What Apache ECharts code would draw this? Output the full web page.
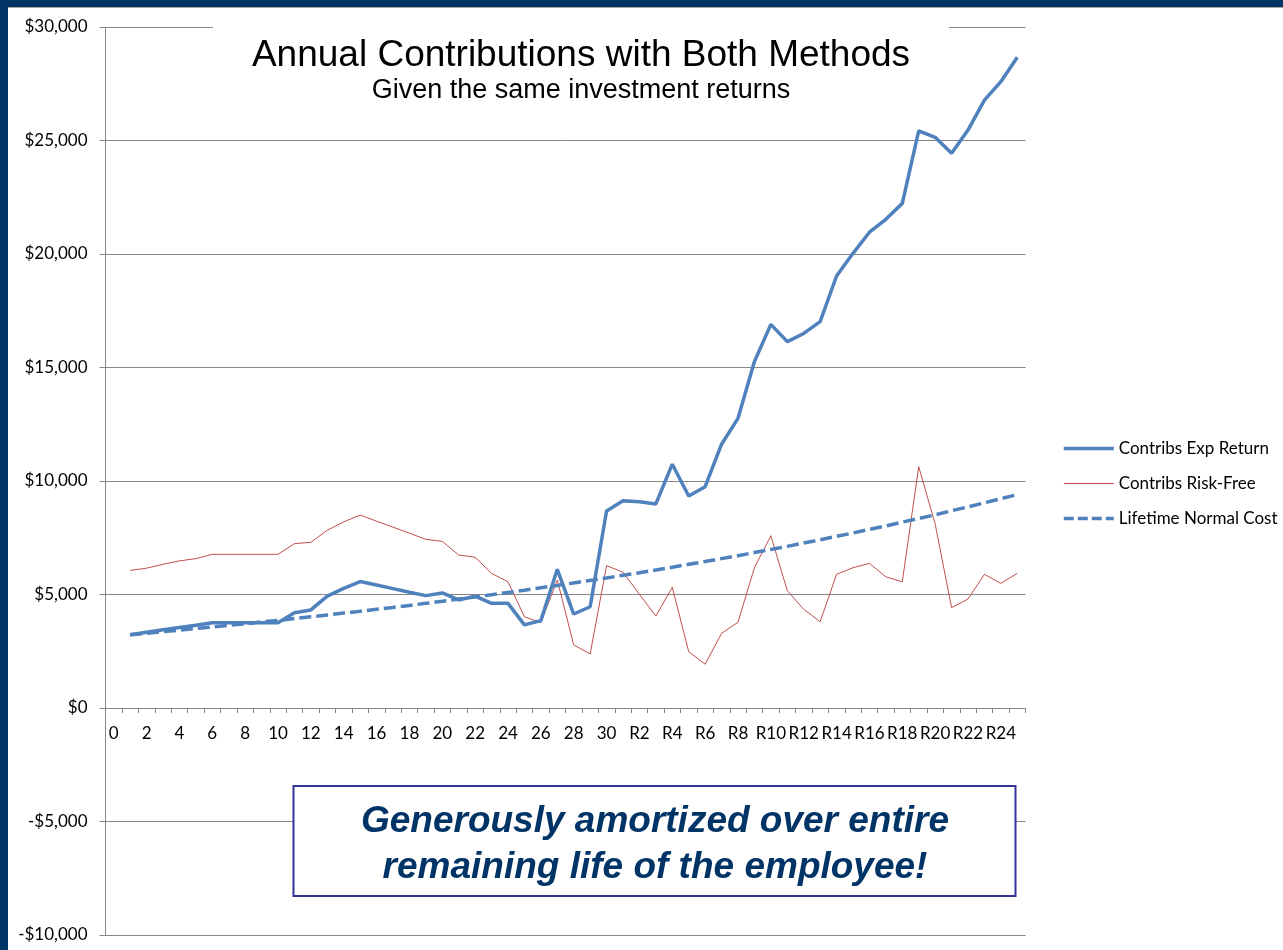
<!DOCTYPE html>
<html>
<head>
<meta charset="utf-8">
<title>Annual Contributions with Both Methods</title>
<script src="https://cdn.jsdelivr.net/npm/echarts@6/dist/echarts.min.js"></script>
<style>
  html, body { margin: 0; padding: 0; background: #fff; }
  #chart { width: 1283px; height: 950px; }
</style>
</head>
<body>
<div id="chart"></div>
<script>
// years 0..30 then retirement years R1..R25
const categories = ['0', '1', '2', '3', '4', '5', '6', '7', '8', '9', '10',
  '11', '12', '13', '14', '15', '16', '17', '18', '19', '20',
  '21', '22', '23', '24', '25', '26', '27', '28', '29', '30',
  'R1', 'R2', 'R3', 'R4', 'R5', 'R6', 'R7', 'R8', 'R9', 'R10',
  'R11', 'R12', 'R13', 'R14', 'R15', 'R16', 'R17', 'R18', 'R19', 'R20',
  'R21', 'R22', 'R23', 'R24', 'R25'];

const contribsExpReturn = [null,
  3230, 3340, 3450, 3550, 3650, 3760, 3760, 3760, 3760, 3760,
  4200, 4320, 4930, 5270, 5570, 5420, 5260, 5100, 4950, 5070,
  4760, 4930, 4610, 4610, 3660, 3850, 6110, 4140, 4460, 8680,
  9130, 9090, 8990, 10740, 9340, 9750, 11620, 12760, 15260, 16900,
  16140, 16500, 17020, 19030, 20030, 20960, 21530, 22230, 25420, 25140,
  24440, 25460, 26780, 27590, 28670];

const contribsRiskFree = [null,
  6060, 6160, 6330, 6480, 6580, 6770, 6770, 6770, 6770, 6770,
  7240, 7300, 7830, 8200, 8500, 8230, 7970, 7700, 7430, 7340,
  6740, 6640, 5930, 5560, 4020, 3760, 5640, 2780, 2380, 6270,
  5980, 5010, 4050, 5320, 2480, 1930, 3290, 3780, 6180, 7590,
  5170, 4350, 3800, 5890, 6180, 6370, 5780, 5560, 10630, 8110,
  4420, 4800, 5890, 5490, 5930];

const lifetimeNormalCost = [null,
  3230, 3290, 3360, 3430, 3500, 3570, 3640, 3710, 3790, 3860,
  3940, 4020, 4100, 4180, 4260, 4350, 4430, 4520, 4610, 4700,
  4800, 4890, 4990, 5090, 5190, 5300, 5400, 5510, 5620, 5730,
  5850, 5960, 6080, 6200, 6330, 6450, 6580, 6710, 6850, 6980,
  7120, 7270, 7410, 7560, 7710, 7870, 8020, 8190, 8350, 8510,
  8690, 8860, 9040, 9220, 9400];

const seriesNames = ['Contribs Exp Return', 'Contribs Risk-Free', 'Lifetime Normal Cost'];

const axisFont = 'Lato, "Noto Sans", sans-serif';
const titleFont = '"Liberation Sans", Arial, sans-serif';
const gridColor = '#868686';
const blue = '#4F81BD';
const red = '#C0504D';

const money = (v) => (v < 0 ? '-$' : '$') + Math.abs(v).toLocaleString('en-US');

const myChart = echarts.init(document.getElementById('chart'));
myChart.setOption({
  animation: false,
  backgroundColor: '#fff',
  title: [
    {
      text: 'Annual Contributions with Both Methods',
      left: 581,
      top: 37,
      textAlign: 'center',
      padding: 0,
      textStyle: { fontFamily: titleFont, fontSize: 37, fontWeight: 'normal', color: '#000' },
    },
    {
      text: 'Given the same investment returns',
      left: 581,
      top: 77,
      textAlign: 'center',
      padding: 0,
      textStyle: { fontFamily: titleFont, fontSize: 27, fontWeight: 'normal', color: '#000' },
    },
  ],
  legend: {
    orient: 'vertical',
    left: 1057,
    top: 435,
    itemWidth: 50,
    itemHeight: 16,
    itemGap: 18,
    itemStyle: { opacity: 0 },
    data: [
      { name: seriesNames[0], lineStyle: { width: 3.5, color: blue } },
      { name: seriesNames[1], lineStyle: { width: 1, color: red } },
      { name: seriesNames[2], lineStyle: { width: 3.5, color: blue, type: [10, 4] } },
    ],
    textStyle: { fontFamily: axisFont, fontSize: 17, color: '#000' },
  },
  grid: {
    left: 105.5,
    right: 257.5,
    top: 27,
    bottom: 15,
    outerBoundsMode: 'none',
    containLabel: false,
  },
  xAxis: {
    type: 'category',
    data: categories,
    boundaryGap: true,
    // the category axis sits on the $0 line
    offset: -227,
    axisLine: { onZero: false, lineStyle: { color: gridColor, width: 1 } },
    axisTick: { show: true, interval: 0, length: 5, lineStyle: { color: gridColor } },
    axisLabel: { interval: 1, margin: 17, fontFamily: axisFont, fontSize: 17, color: '#000' },
    splitLine: { show: false },
  },
  yAxis: {
    type: 'value',
    min: -10000,
    max: 30000,
    interval: 5000,
    axisLine: { show: true, lineStyle: { color: gridColor, width: 1 } },
    axisTick: { show: true, length: 6, lineStyle: { color: gridColor } },
    axisLabel: { margin: 18, fontFamily: axisFont, fontSize: 17, color: '#000', formatter: money },
    splitLine: { show: true, lineStyle: { color: gridColor, width: 1 } },
  },
  series: [
    {
      name: seriesNames[0],
      type: 'line',
      data: contribsExpReturn,
      symbol: 'none',
      z: 4,
      lineStyle: { color: blue, width: 3.5 },
      itemStyle: { color: blue },
    },
    {
      name: seriesNames[1],
      type: 'line',
      data: contribsRiskFree,
      symbol: 'none',
      z: 3,
      lineStyle: { color: red, width: 1 },
      itemStyle: { color: red },
    },
    {
      name: seriesNames[2],
      type: 'line',
      data: lifetimeNormalCost,
      symbol: 'none',
      z: 3,
      lineStyle: { color: blue, width: 3.5, type: [12, 5] },
      itemStyle: { color: blue },
    },
  ],
  graphic: [
    // slide frame (top and left edges)
    { type: 'rect', shape: { x: 0, y: 0, width: 1283, height: 7 }, style: { fill: '#003366' }, z: 10 },
    { type: 'rect', shape: { x: 0, y: 7, width: 1283, height: 1 }, style: { fill: '#a6a6a6' }, z: 10 },
    { type: 'rect', shape: { x: 0, y: 0, width: 8, height: 950 }, style: { fill: '#003366' }, z: 10 },
    // white background behind the title block
    { type: 'rect', shape: { x: 213, y: 20, width: 736, height: 92 }, style: { fill: '#fff' }, z: 1 },
    // callout box
    {
      type: 'rect',
      shape: { x: 293.5, y: 786, width: 722, height: 110 },
      style: { fill: '#fff', stroke: '#333399', lineWidth: 2 },
      z: 5,
    },
    {
      type: 'text',
      x: 655,
      y: 845,
      z: 6,
      style: {
        text: 'Generously amortized over entire\nremaining life of the employee!',
        align: 'center',
        verticalAlign: 'middle',
        lineHeight: 46,
        fill: '#003366',
        font: 'italic bold 37px "Liberation Sans", Arial, sans-serif',
      },
    },
  ],
});
</script>
</body>
</html>
